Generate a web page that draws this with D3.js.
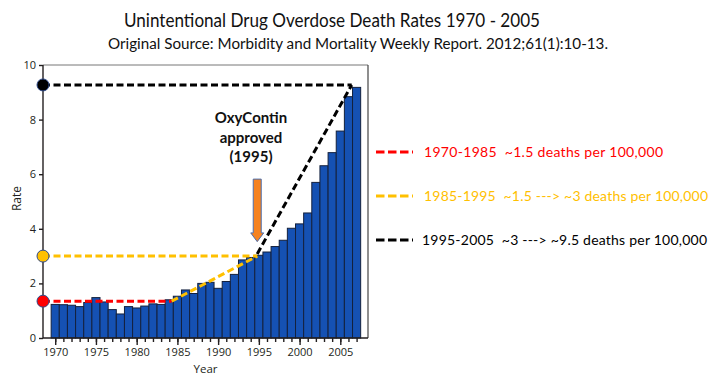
<!DOCTYPE html>
<html>
<head>
<meta charset="utf-8">
<script src="https://cdn.jsdelivr.net/npm/d3@7"></script>
<style>
  html, body { margin: 0; padding: 0; background: #fff; }
  svg { display: block; }
  text { white-space: pre; }
</style>
</head>
<body>
<svg id="chart" width="718" height="377"></svg>
<script>
// ---- data ----
const years = d3.range(1970, 2008);
const rates = [1.23, 1.22, 1.20, 1.15, 1.30, 1.48, 1.32, 1.04, 0.88, 1.15,
               1.10, 1.17, 1.25, 1.23, 1.40, 1.53, 1.76, 1.63, 2.00, 2.04,
               1.82, 2.07, 2.33, 2.86, 2.95, 3.03, 3.15, 3.35, 3.58, 4.02,
               4.18, 4.58, 5.70, 6.31, 6.79, 7.58, 8.84, 9.18];
const yTicks = [0, 2, 4, 6, 8, 10];
const xMajorTicks = [1970, 1975, 1980, 1985, 1990, 1995, 2000, 2005];
const xMinorTicks = d3.range(1970, 2008);

// trend annotations [year, rate]
const redLine = [[1968.5, 1.35], [1984.3, 1.35]];
const yellowFlat = [[1968.5, 3.0], [1994.8, 3.0]];
const yellowRise = [[1984.3, 1.35], [1994.8, 3.0]];
const blackFlat = [[1968.5, 9.27], [2006.4, 9.27]];
const blackRise = [[1994.8, 3.08], [2006.4, 9.27]];
const markerPoints = [
  {rate: 9.27, color: "#000000"},
  {rate: 3.0, color: "#FFC000"},
  {rate: 1.35, color: "#FF0000"}
];
const arrowSpec = {year: 1994.8, top: 5.82, headStart: 3.85, tip: 3.53};
const oxyLabel = ["OxyContin", "approved", "(1995)"];
const legendItems = [
  {label: "1970-1985  ~1.5 deaths per 100,000", color: "#FF0000"},
  {label: "1985-1995  ~1.5 ---> ~3 deaths per 100,000", color: "#FFC000"},
  {label: "1995-2005  ~3 ---> ~9.5 deaths per 100,000", color: "#000000"}
];
const legendWidths = [239, 284, 285];
const titleText = "Unintentional Drug Overdose Death Rates 1970 - 2005";
const subtitleText = "Original Source: Morbidity and Mortality Weekly Report. 2012;61(1):10-13.";

// ---- layout ----
const svg = d3.select("#chart");
const L = 43, R = 368, T = 65, B = 338;
const x = d3.scaleLinear().domain([1968.5, 2008.4]).range([L, R]);
const y = d3.scaleLinear().domain([0, 10]).range([B, T]);
const font = "Lato, 'Open Sans', sans-serif";
const axisFont = "'Open Sans', 'Noto Sans', sans-serif";

// titles
svg.append("text").attr("x", 124).attr("y", 26.5)
  .attr("font-family", font).attr("font-size", 18.5).attr("fill", "#111")
  .attr("textLength", 416).attr("lengthAdjust", "spacingAndGlyphs")
  .text(titleText);
svg.append("text").attr("x", 108).attr("y", 49)
  .attr("font-family", font).attr("font-size", 14.5).attr("fill", "#111")
  .attr("textLength", 500).attr("lengthAdjust", "spacingAndGlyphs")
  .text(subtitleText);

// frame top/right
svg.append("line").attr("x1", L).attr("x2", R).attr("y1", T).attr("y2", T)
  .attr("stroke", "#777").attr("stroke-width", 1);
svg.append("line").attr("x1", R).attr("x2", R).attr("y1", T).attr("y2", B)
  .attr("stroke", "#444").attr("stroke-width", 1.2);

// bars
svg.append("g").selectAll("rect").data(years).join("rect")
  .attr("x", d => x(d - 0.5))
  .attr("width", d => x(d + 0.5) - x(d - 0.5))
  .attr("y", (d, i) => y(rates[i]))
  .attr("height", (d, i) => y(0) - y(rates[i]))
  .attr("fill", "#1551B3")
  .attr("stroke", "#14213d")
  .attr("stroke-width", 1);

// axes
const yAxis = svg.append("g").attr("transform", `translate(${L},0)`)
  .call(d3.axisLeft(y).tickValues(yTicks).tickSize(4).tickPadding(3).tickFormat(d3.format("d")));
const xMinor = svg.append("g").attr("transform", `translate(0,${B})`)
  .call(d3.axisBottom(x).tickValues(xMinorTicks).tickSize(4).tickFormat(""));
xMinor.select(".domain").remove();
const xAxis = svg.append("g").attr("transform", `translate(0,${B})`)
  .call(d3.axisBottom(x).tickValues(xMajorTicks).tickSize(7).tickPadding(3).tickFormat(d3.format("d")));
[yAxis, xAxis, xMinor].forEach(g => {
  g.selectAll("path, line").attr("stroke", "#231f20").attr("stroke-width", 1.4);
  g.selectAll("text").attr("font-family", axisFont).attr("font-size", 11).attr("fill", "#231f20");
});
xAxis.select(".domain").attr("d", `M${L},0H${R}`);
yAxis.select(".domain").attr("d", `M0,${B}V${T}`);

svg.append("text").attr("transform", `translate(21,${(T + B) / 2 - 3}) rotate(-90)`)
  .attr("text-anchor", "middle").attr("font-family", axisFont).attr("font-size", 12)
  .attr("fill", "#231f20").text("Rate");
svg.append("text").attr("x", (L + R) / 2).attr("y", 373)
  .attr("text-anchor", "middle").attr("font-family", axisFont).attr("font-size", 11.5)
  .attr("fill", "#231f20").text("Year");

// trend lines
const line = d3.line().x(d => x(d[0])).y(d => y(d[1]));
const dash = "7,3.5";
[[redLine, "#FF0000"], [yellowFlat, "#FFC000"], [yellowRise, "#FFC000"],
 [blackFlat, "#000000"], [blackRise, "#000000"]].forEach(([pts, c]) => {
  svg.append("path").attr("d", line(pts)).attr("fill", "none")
    .attr("stroke", c).attr("stroke-width", 3).attr("stroke-dasharray", dash);
});

// markers on axis
svg.append("g").selectAll("circle").data(markerPoints).join("circle")
  .attr("cx", L).attr("cy", d => y(d.rate)).attr("r", 6)
  .attr("fill", d => d.color).attr("stroke", "#2f4a8a").attr("stroke-width", 1);

// arrow
const ax = x(arrowSpec.year);
const shaftW = 8, headW = 13;
const arrowPath = `M${ax - shaftW / 2},${y(arrowSpec.top)}H${ax + shaftW / 2}V${y(arrowSpec.headStart)}` +
  `H${ax + headW / 2}L${ax},${y(arrowSpec.tip)}L${ax - headW / 2},${y(arrowSpec.headStart)}` +
  `H${ax - shaftW / 2}Z`;
svg.append("path").attr("d", arrowPath).attr("fill", "#F58220")
  .attr("stroke", "#4a6fb0").attr("stroke-width", 1);

// OxyContin label
svg.append("g").selectAll("text").data(oxyLabel).join("text")
  .attr("x", 251).attr("y", (d, i) => 123 + i * 19.5)
  .attr("text-anchor", "middle").attr("font-family", font).attr("font-weight", "bold")
  .attr("font-size", 15).attr("fill", "#111").text(d => d);

// legend
const lg = svg.append("g");
legendItems.forEach((d, i) => {
  const cy = 152 + i * 44;
  lg.append("line").attr("x1", 376).attr("x2", 413).attr("y1", cy).attr("y2", cy)
    .attr("stroke", d.color).attr("stroke-width", 3).attr("stroke-dasharray", "8.5,3.5");
  lg.append("text").attr("x", i === 2 ? 422 : 424).attr("y", cy + 5)
    .attr("font-family", font).attr("font-size", 14).attr("fill", d.color)
    .attr("textLength", legendWidths[i]).attr("lengthAdjust", "spacing")
    .text(d.label);
});
</script>
</body>
</html>
